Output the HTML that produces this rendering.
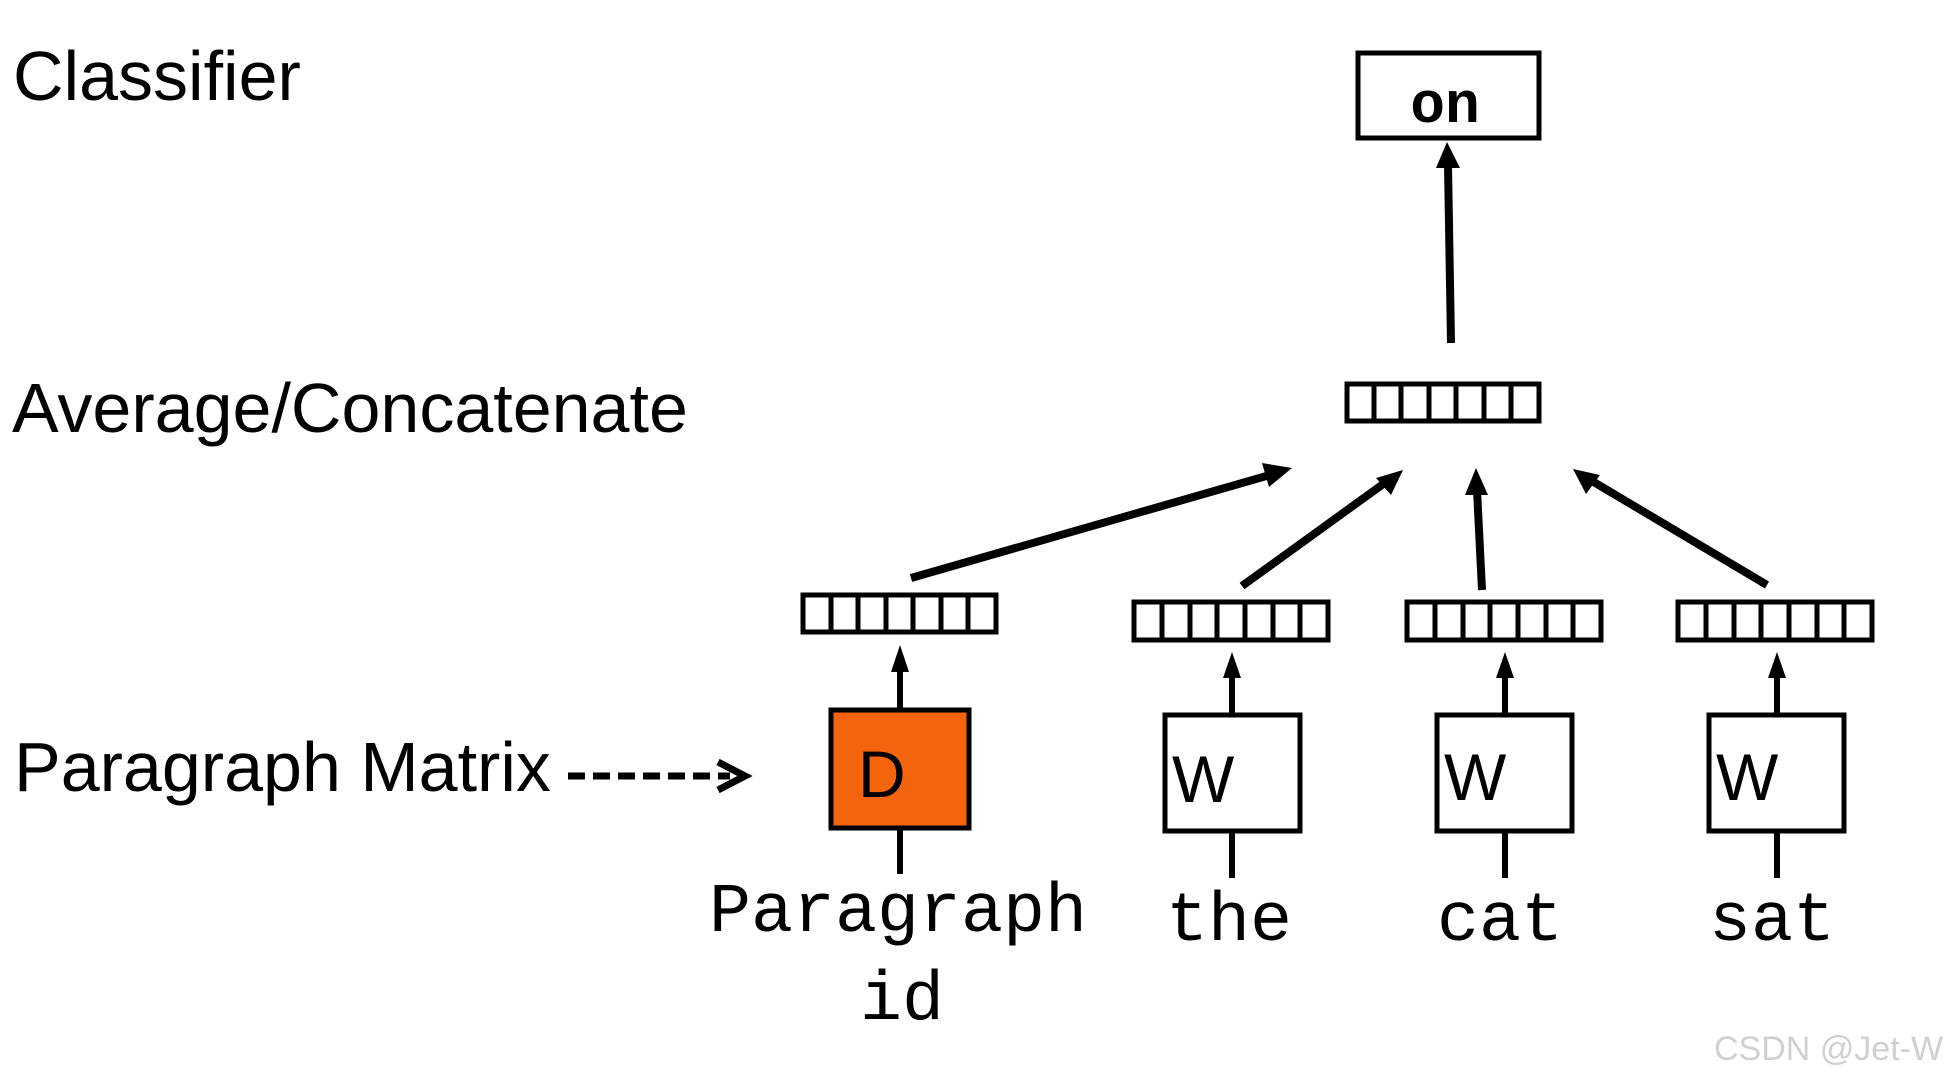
<!DOCTYPE html>
<html><head><meta charset="utf-8"><style>
html,body{margin:0;padding:0;background:#fff;}
svg{display:block;}
.sans{font-family:"Liberation Sans",sans-serif;fill:#000;}
.mono{font-family:"Liberation Mono",monospace;fill:#000;}
</style></head><body>
<svg width="1944" height="1080" viewBox="0 0 1944 1080" xmlns="http://www.w3.org/2000/svg">
<defs>
<marker id="ah" markerWidth="10" markerHeight="10" refX="8" refY="5" orient="auto" markerUnits="userSpaceOnUse" viewBox="0 0 10 10">
</marker>
</defs>
<rect width="1944" height="1080" fill="#fff"/>
<text class="sans" x="13" y="100" font-size="70">Classifier</text>
<text class="sans" x="12" y="432" font-size="70">Average/Concatenate</text>
<text class="sans" x="14" y="791" font-size="70">Paragraph Matrix</text>
<!-- dashed arrow -->
<line x1="568" y1="776" x2="730" y2="776" stroke="#000" stroke-width="7" stroke-dasharray="17,8"/>
<path d="M718 762 L745 776 L718 790" fill="none" stroke="#000" stroke-width="7" stroke-linejoin="miter"/>

<!-- on box -->
<rect x="1358" y="53" width="181" height="85" fill="#fff" stroke="#000" stroke-width="5"/>
<text class="mono" x="1445" y="122" font-size="58" font-weight="bold" text-anchor="middle">on</text>
<line x1="1451" y1="343" x2="1448" y2="165" stroke="#000" stroke-width="8"/>
<polygon points="1447,142 1436,168 1460,168" fill="#000"/>

<!-- vectors -->
<g fill="#fff" stroke="#000" stroke-width="5">
<rect x="1347" y="384" width="192" height="37"/>
<rect x="803" y="595" width="193" height="37"/>
<rect x="1134" y="602" width="194" height="38"/>
<rect x="1407" y="602" width="194" height="38"/>
<rect x="1678" y="602" width="194" height="38"/>
</g>
<g stroke="#000" stroke-width="5">
<path d="M1374 384V421M1401 384V421M1429 384V421M1456 384V421M1484 384V421M1511 384V421"/>
<path d="M831 595V632M858 595V632M886 595V632M913 595V632M941 595V632M968 595V632"/>
<path d="M1162 602V640M1190 602V640M1217 602V640M1245 602V640M1273 602V640M1300 602V640"/>
<path d="M1435 602V640M1463 602V640M1490 602V640M1518 602V640M1546 602V640M1573 602V640"/>
<path d="M1706 602V640M1734 602V640M1761 602V640M1789 602V640M1817 602V640M1844 602V640"/>
</g>

<!-- converging arrows -->
<g stroke="#000" stroke-width="8">
<line x1="911" y1="578" x2="1270" y2="475"/>
<line x1="1242" y1="586" x2="1386" y2="482"/>
<line x1="1482" y1="590" x2="1477" y2="490"/>
<line x1="1767" y1="585" x2="1592" y2="481"/>
</g>
<g fill="#000">
<polygon points="1292,468 1262,463 1269,487"/>
<polygon points="1403,470 1376,478 1391,495"/>
<polygon points="1476,468 1465,495 1488,495"/>
<polygon points="1573,469 1586,494 1600,475"/>
</g>

<!-- boxes -->
<rect x="831" y="710" width="138" height="118" fill="#f4640c" stroke="#000" stroke-width="5"/>
<rect x="1165" y="715" width="135" height="116" fill="#fff" stroke="#000" stroke-width="5"/>
<rect x="1437" y="715" width="135" height="116" fill="#fff" stroke="#000" stroke-width="5"/>
<rect x="1709" y="715" width="135" height="116" fill="#fff" stroke="#000" stroke-width="5"/>
<text class="sans" x="858" y="797" font-size="66">D</text>
<text class="sans" x="1172" y="802" font-size="66">W</text>
<text class="sans" x="1444" y="800" font-size="66">W</text>
<text class="sans" x="1716" y="800" font-size="66">W</text>

<!-- vertical arrows + stems -->
<g stroke="#000" stroke-width="6">
<line x1="900" y1="708" x2="900" y2="660"/>
<line x1="1232" y1="713" x2="1232" y2="668"/>
<line x1="1505" y1="713" x2="1505" y2="668"/>
<line x1="1777" y1="713" x2="1777" y2="668"/>
<line x1="900" y1="830" x2="900" y2="874"/>
<line x1="1232" y1="833" x2="1232" y2="878"/>
<line x1="1505" y1="833" x2="1505" y2="878"/>
<line x1="1777" y1="833" x2="1777" y2="878"/>
</g>
<g fill="#000">
<polygon points="900,645 891,672 909,672"/>
<polygon points="1232,652 1223,678 1241,678"/>
<polygon points="1505,652 1496,678 1514,678"/>
<polygon points="1777,652 1768,678 1786,678"/>
</g>

<!-- labels -->
<text class="mono" x="898" y="931" font-size="70" text-anchor="middle">Paragraph</text>
<text class="mono" x="902" y="1019" font-size="70" text-anchor="middle">id</text>
<text class="mono" x="1229" y="940" font-size="70" text-anchor="middle">the</text>
<text class="mono" x="1500" y="940" font-size="70" text-anchor="middle">cat</text>
<text class="mono" x="1772" y="940" font-size="70" text-anchor="middle">sat</text>

<text x="1714" y="1060" font-family="Liberation Sans, sans-serif" font-size="34" fill="#d0d0d0">CSDN @Jet-W</text>
</svg>
</body></html>
